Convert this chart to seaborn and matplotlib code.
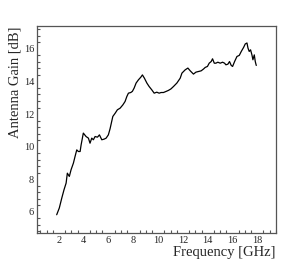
import matplotlib
matplotlib.use('Agg')
import matplotlib.pyplot as plt
from matplotlib.ticker import MultipleLocator
import seaborn as sns
import pandas as pd

# Antenna gain vs frequency
freq_ghz = [1.81, 2.02, 2.22, 2.40, 2.57, 2.67, 2.83, 2.97, 3.16, 3.29, 3.43, 3.56,
            3.70, 3.78, 3.96, 4.18, 4.37, 4.50, 4.64, 4.77, 4.91, 5.10, 5.26, 5.45,
            5.64, 5.80, 5.98, 6.12, 6.34, 6.53, 6.71, 6.93, 7.15, 7.33, 7.47, 7.60,
            7.79, 7.92, 8.06, 8.22, 8.41, 8.60, 8.73, 8.89, 9.09, 9.27, 9.49, 9.68,
            9.89, 10.08, 10.24, 10.43, 10.65, 10.83, 11.03, 11.24, 11.51, 11.78, 11.92,
            12.18, 12.40, 12.59, 12.85, 13.05, 13.26, 13.47, 13.66, 13.80, 13.98, 14.12,
            14.28, 14.39, 14.53, 14.66, 14.82, 15.01, 15.20, 15.36, 15.47, 15.63, 15.76,
            15.90, 16.01, 16.17, 16.36, 16.55, 16.71, 16.90, 17.03, 17.17, 17.25, 17.35,
            17.46, 17.57, 17.65, 17.76, 17.84, 17.92]
gain_db = [5.82, 6.23, 6.84, 7.35, 7.76, 8.37, 8.17, 8.58, 8.99, 9.39, 9.80, 9.70,
           9.70, 10.10, 10.83, 10.62, 10.52, 10.21, 10.52, 10.42, 10.62, 10.58, 10.72, 10.42,
           10.46, 10.52, 10.72, 11.10, 11.85, 12.05, 12.26, 12.36, 12.56, 12.77, 13.07, 13.28,
           13.32, 13.39, 13.59, 13.90, 14.10, 14.26, 14.40, 14.20, 13.90, 13.69, 13.48, 13.28,
           13.34, 13.28, 13.32, 13.32, 13.39, 13.45, 13.54, 13.69, 13.90, 14.20, 14.51,
           14.71, 14.82, 14.65, 14.45, 14.57, 14.61, 14.65, 14.76, 14.86, 14.92, 15.12,
           15.22, 15.39, 15.12, 15.12, 15.18, 15.12, 15.18, 15.12, 15.02, 15.06, 15.22,
           14.98, 14.92, 15.22, 15.53, 15.60, 15.84, 16.09, 16.30, 16.36, 16.05, 15.84,
           15.94, 15.63, 15.33, 15.63, 15.22, 14.98]

df = pd.DataFrame({'Frequency': freq_ghz, 'Gain': gain_db})

sns.set_style('white')
plt.rcParams['font.family'] = ['Liberation Serif', 'DejaVu Serif']

fig = plt.figure(figsize=(3.07, 2.65), dpi=100)
ax = fig.add_axes([0.1205, 0.1208, 0.778, 0.781])

sns.lineplot(data=df, x='Frequency', y='Gain', ax=ax, color='black',
             linewidth=0.9, sort=False)

ax.set_xlim(0.22, 19.5)
ax.set_ylim(4.7, 17.4)
ax.xaxis.set_major_locator(MultipleLocator(2))
ax.xaxis.set_minor_locator(MultipleLocator(0.5))
ax.yaxis.set_major_locator(MultipleLocator(2))
ax.yaxis.set_minor_locator(MultipleLocator(0.4))

for s in ax.spines.values():
    s.set_color('#555555')
    s.set_linewidth(0.9)

ax.tick_params(which='both', direction='in', color='#555555', width=0.8,
               top=False, right=False, labelsize=7.5, pad=2)
ax.tick_params(which='major', length=4.5)
ax.tick_params(which='minor', length=2.5, bottom=True, left=True)

ax.set_xlabel('Frequency [GHz]', fontsize=10.5, loc='right', labelpad=1)
ax.set_ylabel('Antenna Gain [dB]', fontsize=10.5, loc='top', labelpad=2)

fig.savefig('out.png', dpi=100, facecolor='white')
